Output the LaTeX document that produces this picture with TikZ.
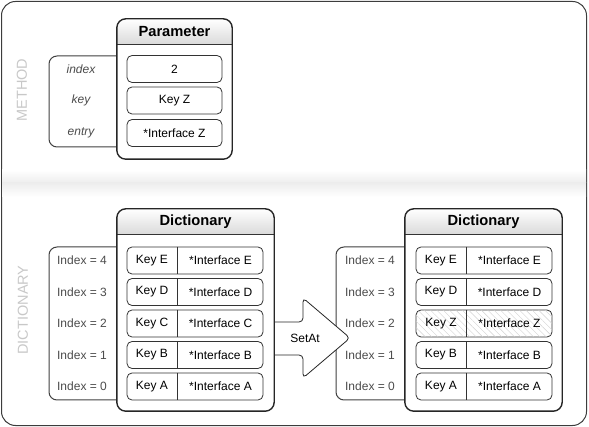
\documentclass[tikz,border=0pt]{standalone}
\usepackage{fontspec}
\setmainfont{Liberation Sans}
\usetikzlibrary{patterns.meta}
\definecolor{framegray}{HTML}{3C3C3C}
\definecolor{labelgray}{HTML}{4C4C4C}
\definecolor{watermark}{HTML}{C8C8C8}
\definecolor{bandgray}{HTML}{EDEDED}
\definecolor{headgray}{HTML}{DADADA}
\tikzset{
    frame-box/.style = {draw=framegray, line width=1pt, rounded corners=14pt},
    panel-fill/.style = {fill=white, inner sep=0pt},
    panel-border/.style = {draw=black!85, line width=1.4pt, rounded corners=9pt},
    panel-line/.style = {draw=black!80, line width=0.8pt},
    panel-title/.style = {font=\fontsize{14.7}{16}\selectfont\bfseries},
    label-box/.style = {draw=black!75, line width=1pt, rounded corners=8pt, fill=white, inner sep=0pt},
    row-box/.style = {draw=black!80, line width=0.8pt, rounded corners=5pt, fill=white, inner sep=0pt, minimum height=27pt},
    row-text/.style = {font=\fontsize{12}{14}\selectfont},
    side-text/.style = {font=\fontsize{12}{14}\selectfont, text=labelgray},
    watermark-text/.style = {font=\fontsize{14.5}{16}\selectfont, text=watermark, rotate=90},
    arrow-shape/.style = {draw=black!85, line width=0.8pt, fill=white, rounded corners=4pt},
}
% panel with shaded header: name, centre, width, height, title
\newcommand{\drawpanel}[5]{%
    \node [panel-fill, minimum width=#3, minimum height=#4] (#1) at (#2) {};
    \begin{scope}
        \clip [rounded corners=9pt] (#1.north west) rectangle (#1.south east);
        \shade [top color=white, bottom color=headgray] (#1.north west) rectangle ([yshift=-25.5pt]#1.north east);
    \end{scope}
    \draw [panel-line] ([yshift=-25.5pt]#1.north west) -- ([yshift=-25.5pt]#1.north east);
    \draw [panel-border] (#1.north west) rectangle (#1.south east);
    \node [panel-title] (#1title) at ([yshift=-13pt]#1.north) {#5};
}

\begin{document}
\begin{tikzpicture}[x=1pt, y=-1pt]
\useasboundingbox (0,0) rectangle (589,427);
% outer frame and separator band
\node [frame-box, minimum width=585pt, minimum height=424pt] (frame) at (294,213.5) {};
\shade[top color=white, bottom color=bandgray] (2,170) rectangle (586,183);
\shade[top color=bandgray, bottom color=white] (2,183) rectangle (586,197);
\node [watermark-text] (method) at (22,90) {METHOD};
\node [watermark-text] (dict) at (23,310) {DICTIONARY};

% method parameter
\node [label-box, minimum width=81pt, minimum height=91pt] (paramlabels) at (89.5,101.5) {};
\drawpanel{param}{174.5,89}{115pt}{140pt}{Parameter}
\node [row-box, minimum width=95pt] (pindex) at (174.5,69) {};
\node [row-box, minimum width=95pt] (pkey) at (174.5,100.5) {};
\node [row-box, minimum width=95pt] (pentry) at (174.5,133) {};
\node [row-text] at (pindex) {2};
\node [row-text] at (pkey) {Key Z};
\node [row-text] at (pentry) {*Interface Z};
\node [side-text, font=\fontsize{12}{14}\selectfont\itshape] (lindex) at (81,69) {index};
\node [side-text, font=\fontsize{12}{14}\selectfont\itshape] (lkey) at (81,100.5) {key};
\node [side-text, font=\fontsize{12}{14}\selectfont\itshape] (lentry) at (81,133) {entry};

% dictionary before and after
\node [label-box, minimum width=81pt, minimum height=153pt] (oldlabels) at (89.5,323.5) {};
\node [label-box, minimum width=81pt, minimum height=153pt] (newlabels) at (376.5,323.5) {};
\draw [arrow-shape] (273,322) -- (303,322) -- (303,298) -- (350,338) -- (303,378) -- (303,355) -- (273,355);
\node [row-text] (setat) at (305,338) {SetAt};
\drawpanel{olddict}{195.5,310}{157pt}{202pt}{Dictionary}
\drawpanel{newdict}{483.5,310}{157pt}{202pt}{Dictionary}

\foreach \n/\k/\y in {4/E/260.5, 3/D/292, 2/C/323.5, 1/B/355, 0/A/386.5} {
    \node [side-text] (oldidx\n) at (82,\y) {Index = \n};
    \node [row-box, minimum width=136pt] (oldrow\n) at (195,\y) {};
    \draw [black!80, line width=0.8pt] (177,0 |- oldrow\n.north) -- (177,0 |- oldrow\n.south);
    \node [row-text] (oldkey\n) at (152,\y) {Key \k};
    \node [row-text] (oldval\n) at (220.5,\y) {*Interface \k};
}
\foreach \n/\k/\y in {4/E/260.5, 3/D/292, 1/B/355, 0/A/386.5} {
    \node [side-text] (newidx\n) at (370,\y) {Index = \n};
    \node [row-box, minimum width=136pt] (newrow\n) at (484,\y) {};
    \draw [black!80, line width=0.8pt] (466,0 |- newrow\n.north) -- (466,0 |- newrow\n.south);
    \node [row-text] (newkey\n) at (441,\y) {Key \k};
    \node [row-text] (newval\n) at (509.5,\y) {*Interface \k};
}
% replaced entry
\node [side-text] (newidx2) at (370,323.5) {Index = 2};
\node [row-box, minimum width=136pt, postaction={pattern={Lines[angle=-45, distance=4.5pt, line width=0.4pt]}, pattern color=black!18}] (newrow2) at (484,323.5) {};
\draw [black!80, line width=0.8pt] (466,0 |- newrow2.north) -- (466,0 |- newrow2.south);
\node [row-text] (newkey2) at (441,323.5) {Key Z};
\node [row-text] (newval2) at (509.5,323.5) {*Interface Z};
\end{tikzpicture}
\end{document}
